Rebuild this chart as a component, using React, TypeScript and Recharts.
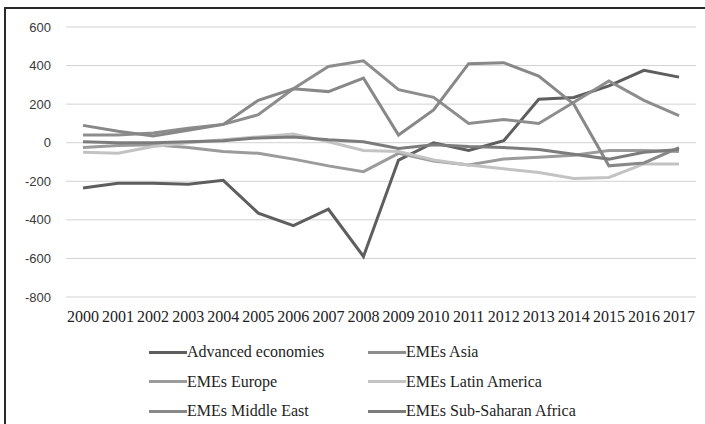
import React from 'react';
import { LineChart, Line, XAxis, YAxis, CartesianGrid, Legend } from 'recharts';

const years = ['2000', '2001', '2002', '2003', '2004', '2005', '2006', '2007', '2008', '2009', '2010', '2011', '2012', '2013', '2014', '2015', '2016', '2017'];

const advancedEconomies = [-235, -210, -210, -215, -195, -365, -430, -345, -590, -90, 0, -40, 10, 225, 235, 295, 375, 340];
const emesAsia = [40, 40, 50, 75, 95, 145, 280, 395, 425, 275, 235, 100, 120, 100, 210, 320, 220, 140];
const emesEurope = [-25, -15, -10, -25, -45, -55, -85, -120, -150, -55, -95, -115, -85, -75, -65, -40, -40, -45];
const emesLatinAmerica = [-50, -55, -20, 0, 15, 30, 45, 5, -40, -45, -90, -115, -135, -155, -185, -180, -110, -110];
const emesMiddleEast = [90, 60, 35, 65, 95, 220, 280, 265, 335, 40, 170, 410, 415, 345, 200, -120, -105, -25];
const emesSubSaharanAfrica = [5, 0, 0, 5, 10, 25, 30, 15, 5, -30, -10, -20, -25, -35, -60, -85, -50, -35];

const seriesNames = ['Advanced economies', 'EMEs Asia', 'EMEs Europe', 'EMEs Latin America', 'EMEs Middle East', 'EMEs Sub-Saharan Africa'];
const seriesValues = [advancedEconomies, emesAsia, emesEurope, emesLatinAmerica, emesMiddleEast, emesSubSaharanAfrica];
const seriesKeys = ['adv', 'asia', 'europe', 'latam', 'me', 'ssa'];
const seriesColors = ['#5e5e5e', '#8d8d8d', '#9b9b9b', '#c3c3c3', '#888888', '#7c7c7c'];

const yTicks = [-800, -600, -400, -200, 0, 200, 400, 600];

const SERIF = '"Liberation Serif", "Times New Roman", Times, "Nimbus Roman", serif';

const data = years.map((y, i) => {
  const row: Record<string, number | string> = { year: y };
  seriesKeys.forEach((k, j) => {
    row[k] = seriesValues[j][i];
  });
  return row;
});

const renderLegend = () => (
  <div
    style={{
      position: 'relative',
      width: 705,
      height: 90,
      fontFamily: SERIF,
      fontSize: 16,
      color: '#1e1e1e',
    }}
  >
    {seriesNames.map((name, i) => {
      const col = i % 2;
      const row = Math.floor(i / 2);
      return (
        <div
          key={name}
          style={{
            position: 'absolute',
            left: 149 + col * 219,
            top: row * 29.5,
            height: 20,
            display: 'flex',
            alignItems: 'center',
            whiteSpace: 'nowrap',
          }}
        >
          <span style={{ display: 'inline-block', width: 38, height: 3, background: seriesColors[i] }} />
          <span style={{ fontFamily: SERIF }}>{name}</span>
        </div>
      );
    })}
  </div>
);

export default function App() {
  return (
    <div
      style={{
        position: 'absolute',
        left: 0,
        top: 0,
        width: 705,
        height: 424,
        overflow: 'hidden',
        background: '#ffffff',
      }}
    >
      <div
        style={{
          position: 'absolute',
          left: 4,
          top: 7,
          width: 730,
          height: 440,
          border: '2px solid #2a2a2a',
          boxSizing: 'border-box',
        }}
      />
      <div style={{ position: 'absolute', left: 0, top: 0 }}>
        <LineChart width={705} height={424} data={data} margin={{ top: 27, right: 9, bottom: 97, left: 6 }}>
          <CartesianGrid horizontal={true} vertical={false} stroke="#d2d2d2" strokeWidth={1} />
          <XAxis
            dataKey="year"
            interval={0}
            axisLine={false}
            tickLine={false}
            tickSize={0}
            tickMargin={14}
            height={30}
            padding={{ left: 17, right: 17 }}
            tick={{ fontFamily: SERIF, fontSize: 16, fill: '#222222' }}
          />
          <YAxis
            domain={[-800, 600]}
            ticks={yTicks}
            interval={0}
            axisLine={false}
            tickLine={false}
            tickSize={0}
            tickMargin={15}
            width={60}
            tick={{ fontFamily: '"Liberation Sans", sans-serif', fontSize: 13, fill: '#3a3a3a' }}
          />
          <Legend
            layout="vertical"
            align="center"
            verticalAlign="middle"
            content={renderLegend}
            wrapperStyle={{ top: 342, left: 0, width: 705, height: 90 }}
          />
          {seriesKeys.map((k, i) => (
            <Line
              key={k}
              type="linear"
              dataKey={k}
              name={seriesNames[i]}
              stroke={seriesColors[i]}
              strokeWidth={3}
              dot={false}
              activeDot={false}
              isAnimationActive={false}
            />
          ))}
        </LineChart>
      </div>
    </div>
  );
}
